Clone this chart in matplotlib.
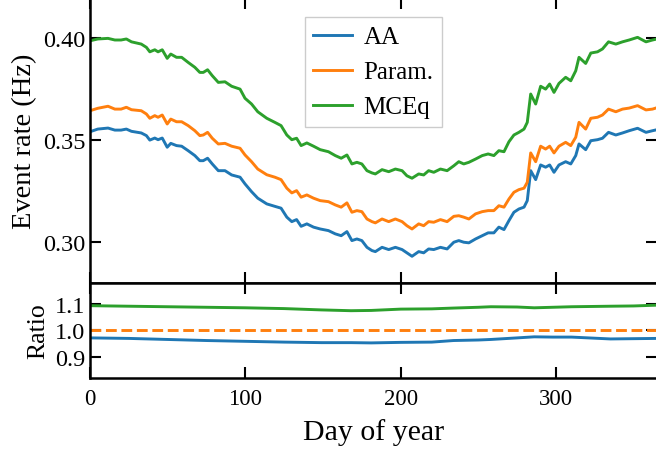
import matplotlib
matplotlib.use("Agg")
import matplotlib.pyplot as plt
import numpy as np

plt.rcParams['font.family'] = ['Liberation Serif', 'DejaVu Serif']
plt.rcParams['mathtext.fontset'] = 'stix'

# day of year
days = [0, 5, 11.6, 16, 20, 23.4, 26.7, 33, 36.3, 38.5, 41.7, 43.8, 46.5, 49.7, 52, 55.7, 59,
        63.2, 67.5, 70.7, 72.9, 75.7, 78.7, 82.6, 86.9, 91.2,
        96.6, 99.8, 104, 108, 113.8, 119, 123, 126.7, 129.9, 133, 135.9, 139.6, 143.9, 148.2,
        153.5, 157.9, 161.7, 165.4, 168.6, 171.8, 175, 178.3, 181.5,
        183.7, 188, 192.3, 196.6, 200.9, 204, 207.3, 211.6, 214.8, 218, 221.3, 225.6, 229.9,
        234.2, 237.4, 240.6, 243.9, 248.2, 252.5, 256.3, 260, 263.2, 266.5,
        269.7, 272.9, 276.1, 279.4, 281.5, 283.7, 286.9, 290.1, 293.3, 295.9, 298.7, 301.9,
        306.2, 309.5, 312.7, 314.8, 319.1, 322.4, 326.7, 329.9, 333.8, 338.5, 342.8, 347.1,
        352.5, 357.9, 362.1, 365]

rate_aa = [0.3542, 0.3555, 0.3560, 0.3550, 0.3550, 0.3555, 0.3544, 0.3536, 0.3523, 0.3501,
           0.3511, 0.3503, 0.3511, 0.3466, 0.3485, 0.3474, 0.3471, 0.3449, 0.3425, 0.3400,
           0.3400, 0.3412, 0.3384, 0.3351, 0.3351, 0.3330,
           0.3319, 0.3286, 0.3248, 0.3216, 0.3188, 0.3176, 0.3167, 0.3123, 0.3101, 0.3111,
           0.3078, 0.3090, 0.3074, 0.3065, 0.3057, 0.3041, 0.3032, 0.3052, 0.3008, 0.3016,
           0.3008, 0.2975, 0.2959,
           0.2954, 0.2975, 0.2964, 0.2975, 0.2964, 0.2948, 0.2931, 0.2954, 0.2948, 0.2967,
           0.2964, 0.2975, 0.2967, 0.3000, 0.3008, 0.3000, 0.2997, 0.3016, 0.3032, 0.3046,
           0.3046, 0.3074, 0.3062,
           0.3106, 0.3147, 0.3163, 0.3172, 0.3204, 0.3351, 0.3307, 0.3379, 0.3368, 0.3379,
           0.3343, 0.3379, 0.3395, 0.3384, 0.3425, 0.3482, 0.3454, 0.3498, 0.3503, 0.3510,
           0.3539, 0.3526, 0.3536, 0.3547, 0.3559, 0.3539, 0.3547, 0.3552]

rate_param = [0.3645, 0.3657, 0.3667, 0.3653, 0.3653, 0.3662, 0.3650, 0.3645, 0.3629, 0.3608,
              0.3621, 0.3613, 0.3624, 0.3580, 0.3604, 0.3591, 0.3591, 0.3572, 0.3547, 0.3523,
              0.3526, 0.3539, 0.3510, 0.3482, 0.3485, 0.3471,
              0.3461, 0.3428, 0.3395, 0.3359, 0.3331, 0.3319, 0.3307, 0.3265, 0.3242, 0.3253,
              0.3221, 0.3232, 0.3216, 0.3204, 0.3199, 0.3183, 0.3172, 0.3193, 0.3147, 0.3155,
              0.3150, 0.3114, 0.3101,
              0.3095, 0.3114, 0.3101, 0.3114, 0.3101, 0.3081, 0.3065, 0.3090, 0.3081, 0.3101,
              0.3098, 0.3111, 0.3101, 0.3127, 0.3130, 0.3123, 0.3114, 0.3139, 0.3150, 0.3155,
              0.3155, 0.3179, 0.3172,
              0.3212, 0.3245, 0.3258, 0.3265, 0.3294, 0.3438, 0.3395, 0.3471, 0.3457, 0.3471,
              0.3438, 0.3471, 0.3490, 0.3474, 0.3515, 0.3588, 0.3555, 0.3608, 0.3613, 0.3624,
              0.3653, 0.3640, 0.3653, 0.3658, 0.3670, 0.3649, 0.3653, 0.3660]

rate_mceq = [0.3988, 0.3997, 0.4000, 0.3992, 0.3992, 0.3997, 0.3983, 0.3972, 0.3956, 0.3934,
             0.3944, 0.3934, 0.3944, 0.3902, 0.3923, 0.3907, 0.3907, 0.3882, 0.3858, 0.3833,
             0.3833, 0.3846, 0.3817, 0.3784, 0.3787, 0.3765,
             0.3751, 0.3706, 0.3678, 0.3640, 0.3608, 0.3588, 0.3572, 0.3526, 0.3503, 0.3510,
             0.3474, 0.3487, 0.3471, 0.3454, 0.3444, 0.3425, 0.3412, 0.3428, 0.3384, 0.3392,
             0.3384, 0.3351, 0.3340,
             0.3335, 0.3356, 0.3346, 0.3359, 0.3351, 0.3326, 0.3314, 0.3335, 0.3330, 0.3351,
             0.3343, 0.3359, 0.3351, 0.3375, 0.3395, 0.3384, 0.3392, 0.3408, 0.3425, 0.3433,
             0.3425, 0.3449, 0.3444,
             0.3493, 0.3526, 0.3539, 0.3555, 0.3588, 0.3727, 0.3678, 0.3765, 0.3751, 0.3776,
             0.3735, 0.3779, 0.3809, 0.3792, 0.3841, 0.3907, 0.3877, 0.3928, 0.3934, 0.3948,
             0.3983, 0.3972, 0.3983, 0.3992, 0.4005, 0.3983, 0.3992, 0.3997]

# ratio panel (relative to Param.)
ratio_days = [0, 25, 50, 75, 100, 125, 149, 168, 181, 200, 220, 234, 250, 258, 275, 286,
              298, 310, 335, 350, 365]
ratio_aa = [0.972, 0.970, 0.966, 0.962, 0.959, 0.956, 0.954, 0.954, 0.953, 0.955, 0.956,
            0.962, 0.964, 0.966, 0.972, 0.976, 0.975, 0.975, 0.968, 0.969, 0.970]
ratio_mceq = [1.094, 1.092, 1.090, 1.088, 1.086, 1.083, 1.078, 1.075, 1.076, 1.081, 1.082,
              1.085, 1.088, 1.090, 1.089, 1.086, 1.088, 1.090, 1.092, 1.093, 1.096]

labels = ['AA', 'Param.', 'MCEq']
colors = ['#1f77b4', '#ff7f0e', '#2ca02c']

fig = plt.figure(figsize=(6.56, 4.52), dpi=100)
ax1 = fig.add_axes([0.1372, 0.3717, 0.8643, 0.6314])
ax2 = fig.add_axes([0.1372, 0.1615, 0.8643, 0.2102], sharex=ax1)

for series, lab, c in zip([rate_aa, rate_param, rate_mceq], labels, colors):
    ax1.plot(days, series, color=c, lw=2.1, label=lab)

ax2.plot(ratio_days, ratio_aa, color=colors[0], lw=2.1)
ax2.plot(days, np.array(rate_param) / np.array(rate_param), color=colors[1], lw=2.1, ls='--')
ax2.plot(ratio_days, ratio_mceq, color=colors[2], lw=2.1)

ax1.set_xlim(0, 365)
ax1.set_ylim(0.28, 0.42)
ax1.set_yticks([0.30, 0.35, 0.40])
ax1.set_yticklabels(['0.30', '0.35', '0.40'])
ax1.set_ylabel('Event rate (Hz)', fontsize=20.5)
ax1.tick_params(labelbottom=False)

ax2.set_ylim(0.82, 1.18)
ax2.set_yticks([0.9, 1.0, 1.1])
ax2.set_yticklabels(['0.9', '1.0', '1.1'])
ax2.set_xticks([0, 100, 200, 300])
ax2.set_ylabel('Ratio', fontsize=18.5)
ax2.set_xlabel('Day of year', fontsize=21.5, labelpad=6)

for ax in (ax1, ax2):
    ax.tick_params(direction='in', top=True, right=True, length=8, width=1.5)
    ax.tick_params(axis='y', labelsize=17.5)
    ax.tick_params(axis='x', labelsize=16.5)
    for sp in ax.spines.values():
        sp.set_linewidth(1.8)
ax2.tick_params(axis='x', pad=7.5)

ax1.legend(loc='upper center', bbox_to_anchor=(0.5, 0.975), fontsize=18,
           fancybox=False, edgecolor='0.8', framealpha=1, borderpad=0.35,
           labelspacing=0.5, handlelength=1.55, handletextpad=0.45)

fig.savefig('out.png', dpi=100)
